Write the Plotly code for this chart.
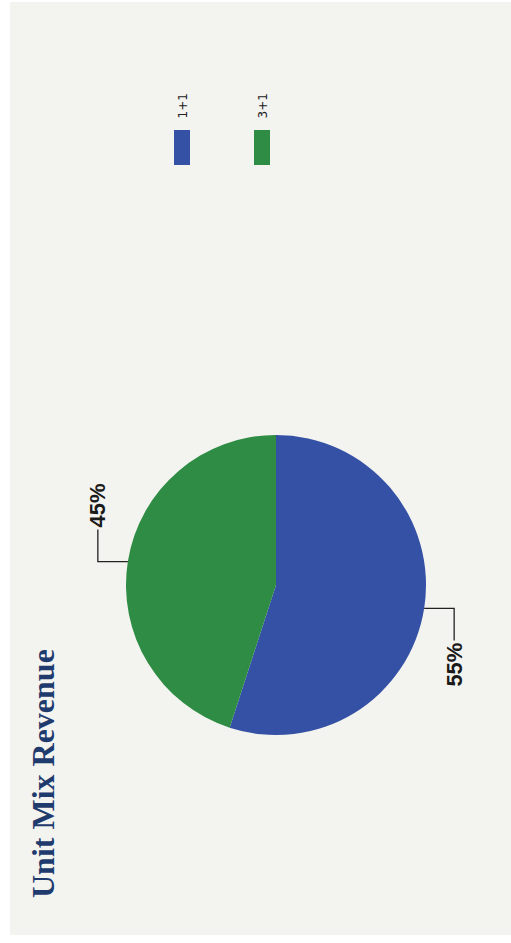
import math
import plotly.graph_objects as go

# Unit mix revenue split
labels = ["1+1", "3+1"]
values = [55, 45]
colors = ["#3451a6", "#2e8c44"]
title_text = "Unit Mix Revenue"

W, H = 511, 943

def px(x):
    return x / W

def py(y):
    return 1 - y / H

# pie geometry in pixels
cx, cy, r = 276, 585, 150

fig = go.Figure()
fig.add_trace(go.Pie(
    labels=labels,
    values=values,
    marker=dict(colors=colors, line=dict(width=0)),
    sort=False,
    direction="clockwise",
    rotation=0,
    textinfo="none",
    hoverinfo="label+percent",
    showlegend=False,
    domain=dict(x=[px(cx - r), px(cx + r)], y=[py(cy + r), py(cy - r)]),
))

shapes = [
    # panel background
    dict(type="rect", xref="paper", yref="paper", x0=px(10), x1=1.0, y0=py(935), y1=py(2),
         fillcolor="#f3f3ef", line=dict(width=0), layer="below"),
]
annotations = [
    dict(text=title_text, textangle=-90, x=px(43), y=py(774), xref="paper", yref="paper",
         showarrow=False, xanchor="center", yanchor="middle",
         font=dict(family="Liberation Serif", size=32, color="#1f3b6e", weight="bold")),
]

# elbow leader lines and percent labels
total = sum(values)
start = 0.0
for v in values:
    frac = v / total
    mid = (start + frac / 2) * 2 * math.pi
    start += frac
    ex = cx + r * math.sin(mid)
    ey = cy - r * math.cos(mid)
    side = 1 if ex > cx else -1
    kx = ex + side * 30
    ky = ey + side * 32
    shapes.append(dict(type="path", xref="paper", yref="paper",
                       path=f"M {px(ex)},{py(ey)} L {px(kx)},{py(ey)} L {px(kx)},{py(ky)}",
                       line=dict(color="#222222", width=1.3)))
    annotations.append(dict(
        text=f"{round(frac * 100)}%", textangle=-90, x=px(kx), y=py(ky),
        xref="paper", yref="paper", showarrow=False, xanchor="center",
        yanchor="top" if side > 0 else "bottom",
        font=dict(family="Liberation Sans", size=22, color="#1a1a1a", weight="bold")))

# legend drawn as rotated swatches with labels
for i, (lab, col) in enumerate(zip(labels, colors)):
    lx = 182 + i * 80
    shapes.append(dict(type="rect", xref="paper", yref="paper",
                       x0=px(lx - 8), x1=px(lx + 8), y0=py(165), y1=py(130),
                       fillcolor=col, line=dict(width=0)))
    annotations.append(dict(text=lab, textangle=-90, x=px(lx), y=py(121),
                            xref="paper", yref="paper", showarrow=False,
                            xanchor="center", yanchor="bottom",
                            font=dict(family="DejaVu Sans", size=12, color="#222222")))

fig.update_layout(
    width=W, height=H,
    margin=dict(l=0, r=0, t=0, b=0),
    paper_bgcolor="white",
    plot_bgcolor="white",
    shapes=shapes,
    annotations=annotations,
)

fig.write_html("out.html")
